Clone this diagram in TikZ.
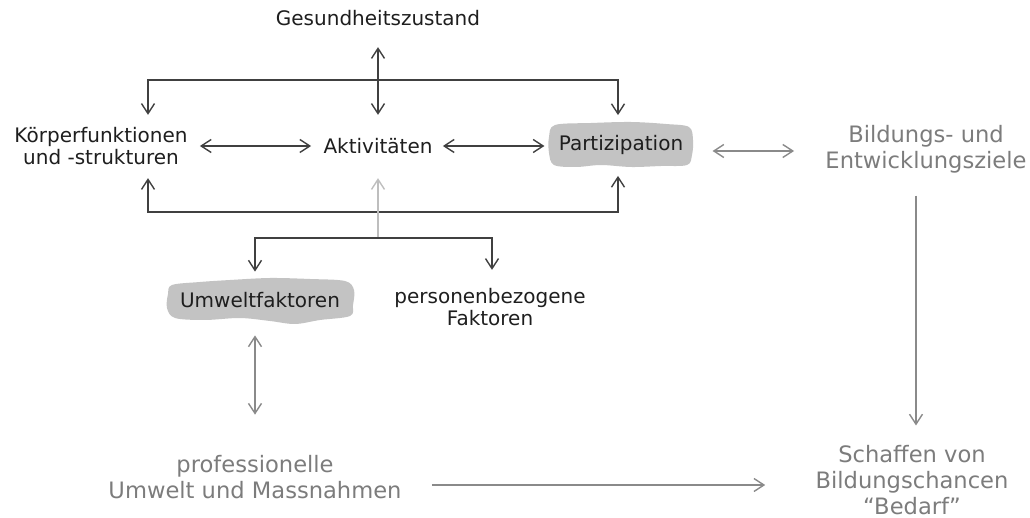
\documentclass[tikz,border=0pt]{standalone}
\usepackage{fontspec}
\setmainfont{DejaVu Sans}
\usepackage{xcolor}
\usetikzlibrary{positioning,arrows.meta,backgrounds}

\definecolor{inkdark}{HTML}{1E1E1E}
\definecolor{linedark}{HTML}{404040}
\definecolor{linegray}{HTML}{8A8A8A}
\definecolor{linelight}{HTML}{BEBEBE}
\definecolor{textgray}{HTML}{7C7C7C}
\definecolor{blobgray}{HTML}{C3C3C3}

\begin{document}
\begin{tikzpicture}[
    x=0.5pt, y=-0.5pt,
    >={Straight Barb[length=5pt,width=6.5pt]},
    icfnode/.style={inner sep=0pt, align=center, text=inkdark,
        font=\fontsize{10}{11}\selectfont},
    goalnode/.style={inner sep=0pt, align=center, text=textgray,
        font=\fontsize{11.3}{13.2}\selectfont},
    blobnode/.style={icfnode},
    blobfill/.style={fill=blobgray},
    darkarrow/.style={draw=linedark, line width=0.7pt},
    grayarrow/.style={draw=linegray, line width=0.7pt},
    lightarrow/.style={draw=linelight, line width=0.7pt}
    ]
        \useasboundingbox (0,0) rectangle (1030,518);

        %Nodes
        \node[icfnode]  (gesund)    at (378,18)     {Gesundheitszustand};
        \node[icfnode]  (koerper)   at (101,146)    {Körperfunktionen\\und -strukturen};
        \node[icfnode]  (aktiv)     at (378,146)    {Aktivitäten};
        \node[blobnode, inner xsep=4.5pt, minimum height=22.5pt]
                        (partiz)    at (621,145)    {Partizipation};
        \node[blobnode, inner xsep=6.5pt, minimum height=20pt]
                        (umwelt)    at (260,300)    {Umweltfaktoren};
        \node[icfnode]  (person)    at (490,307)    {personenbezogene\\Faktoren};
        \node[goalnode] (ziele)     at (926,149)    {Bildungs- und\\Entwicklungsziele};
        \node[goalnode] (profi)     at (255,477)    {professionelle\\Umwelt und Massnahmen};
        \node[goalnode] (bedarf)    at (912,480)    {Schaffen von\\Bildungschancen\\“Bedarf”};

        %Brush marks behind the two highlighted nodes
        \begin{scope}[on background layer]
            \fill[blobfill, shift={(partiz)}] plot[smooth cycle, tension=0.55] coordinates {
                (-66,-20) (-30,-22) (10,-23) (45,-21) (68,-18) (72,-5) (71,10) (66,20)
                (40,21) (10,22) (-20,20) (-45,22) (-67,20) (-72,8) (-72,-8)};
            \fill[blobfill, shift={(umwelt)}] plot[smooth cycle, tension=0.55] coordinates {
                (-88,-15) (-60,-18) (-30,-20) (10,-22) (50,-21) (85,-19) (94,-10) (93,5)
                (90,16) (60,20) (35,24) (10,21) (-20,18) (-55,20) (-85,18) (-93,8) (-92,-6)};
        \end{scope}

        %Junctions
        \coordinate (toplft) at (148,80);
        \coordinate (toprgt) at (618,80);
        \coordinate (botlft) at (148,212);
        \coordinate (botrgt) at (618,212);
        \coordinate (envjoin) at (378,238);
        \coordinate (envlft) at (255,238);
        \coordinate (envrgt) at (492,238);

        %Lines
        \draw[darkarrow, <->, shorten <=10.5pt, shorten >=11.5pt]
            (gesund.south) -- (aktiv.north);
        \draw[darkarrow, <->, shorten <=6pt, shorten >=6pt]
            (koerper.east) -- (aktiv.west);
        \draw[darkarrow, <->, shorten <=5pt, shorten >=2.5pt]
            (aktiv.east) -- (partiz.west |- aktiv);
        \draw[darkarrow, <->, shorten <=6pt, shorten >=3.5pt]
            (koerper.north -| toplft) -- (toplft) -- (toprgt) -- (partiz.north -| toprgt);
        \draw[darkarrow, <->, shorten <=6.5pt, shorten >=4pt]
            (koerper.south -| botlft) -- (botlft) -- (botrgt) -- (partiz.south -| botrgt);
        \draw[lightarrow, ->, shorten >=12pt]
            (envjoin) -- (aktiv.south);
        \draw[darkarrow, <->, shorten <=4pt, shorten >=9pt]
            (umwelt.north -| envlft) -- (envlft) -- (envrgt) -- (person.north -| envrgt);
        \draw[grayarrow, <->, shorten <=10pt, shorten >=15.5pt]
            (partiz.east |- 0,151) -- (ziele.west |- 0,151);
        \draw[grayarrow, <->, shorten <=7.5pt, shorten >=20pt]
            (umwelt.south -| profi.north) -- (profi.north);
        \draw[grayarrow, ->, shorten <=11pt, shorten >=9.5pt]
            (ziele.south -| 916,0) -- (bedarf.north -| 916,0);
        \draw[grayarrow, ->, shorten <=15pt, shorten >=25pt]
            (profi.east |- 0,485) -- (bedarf.west |- 0,485);
\end{tikzpicture}
\end{document}
